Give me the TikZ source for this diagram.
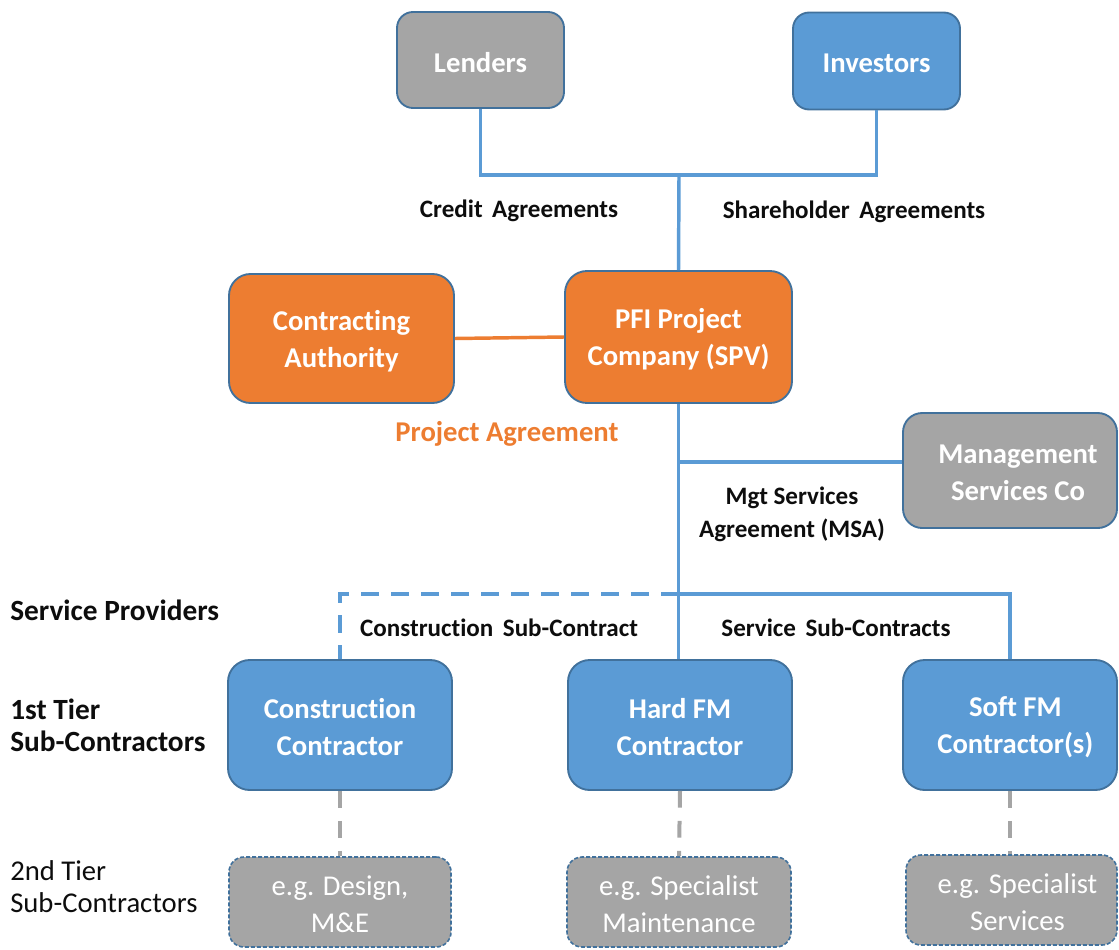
\documentclass[tikz,border=0pt]{standalone}
\usepackage{fontspec}
\setmainfont{Carlito}[Ligatures={NoCommon}]
\definecolor{boxgray}{HTML}{A5A5A5}
\definecolor{boxblue}{HTML}{5B9BD5}
\definecolor{boxorange}{HTML}{ED7D31}
\definecolor{edgeblue}{HTML}{41719C}
\definecolor{linkblue}{HTML}{5B9BD5}
\definecolor{labeltext}{HTML}{0D0D0D}
\newcommand{\wsp}{\hspace{0.38em}}
\begin{document}
\begin{tikzpicture}[x=0.75pt,y=-0.75pt,
  sz/.style 2 args={minimum width=#1*0.75pt, minimum height=#2*0.75pt,
                    rounded corners=#2*0.125pt},
  boxtext/.style={align=center, inner sep=0pt, text=white, yshift=-1.8pt,
                  font=\fontsize{21.5}{27.75}\selectfont\bfseries},
  entity/.style={draw=edgeblue, line width=1.4pt, inner sep=0pt, align=center,
                 text=white, font=\fontsize{21.5}{27.75}\selectfont\bfseries},
  graybox/.style={entity, fill=boxgray},
  bluebox/.style={entity, fill=boxblue},
  orangebox/.style={entity, fill=boxorange},
  tierbox/.style={draw=edgeblue, line width=1.2pt, dash pattern=on 3pt off 1.5pt,
                  fill=boxgray, inner sep=0pt, align=center, text=white,
                  font=\fontsize{21.5}{27.75}\selectfont},
  link/.style={draw=linkblue, line width=2.6pt},
  linkdash/.style={link, dash pattern=on 13.5pt off 9pt},
  tierlink/.style={draw=boxgray, line width=3pt, dash pattern=on 12.5pt off 10pt},
  agree/.style={text=labeltext, align=center, inner sep=0pt,
                font=\fontsize{18.8}{24.75}\selectfont\bfseries},
  rowlabel/.style={text=labeltext, anchor=west, align=left, inner sep=0pt,
                   font=\fontsize{22}{24}\selectfont\bfseries},
  rowlabelplain/.style={rowlabel, font=\fontsize{21.5}{24}\selectfont}
]
\useasboundingbox (0,0) rectangle (1119,949);

% funders
\node[graybox, sz={167}{96}] (lenders) at (480.5,60) {};
\node[boxtext] (lenderstext) at (lenders.center) {Lenders};
\node[bluebox, sz={167}{97}] (investors) at (876.5,61) {};
\node[boxtext] (investorstext) at (investors.center) {Investors};

% project level
\node[orangebox, sz={225}{129}] (authority) at (341.5,338.5) {};
\node[boxtext] (authoritytext) at (authority.center) {Contracting\\Authority};
\node[orangebox, sz={227}{132}] (spv) at (678.5,337) {};
\node[boxtext] (spvtext) at (spv.center) {PFI Project\\Company (SPV)};
\node[graybox, sz={214}{115}] (mgmt) at (1010,470.5) {};
\node[boxtext] (mgmttext) at ([xshift=6pt]mgmt.center) {Management\\Services Co};

% first tier
\node[bluebox, sz={224}{130}] (construction) at (340,725) {};
\node[boxtext] (constructiontext) at (construction.center) {Construction\\Contractor};
\node[bluebox, sz={224}{130}] (hardfm) at (680,725) {};
\node[boxtext] (hardfmtext) at (hardfm.center) {Hard FM\\Contractor};
\node[bluebox, sz={214}{130}] (softfm) at (1010,725) {};
\node[boxtext] (softfmtext) at ([xshift=4pt]softfm.center) {Soft FM\\Contractor(s)};

% second tier
\node[tierbox, sz={222}{90}] (design) at (340,902) {};
\node[boxtext, font=\fontsize{21.5}{27.75}\selectfont] (designtext)
  at (design.center) {e.g. Design,\\M\&E};
\node[tierbox, sz={224}{90}] (maint) at (679,902) {};
\node[boxtext, font=\fontsize{21.5}{27.75}\selectfont] (mainttext)
  at (maint.center) {e.g. Specialist\\Maintenance};
\node[tierbox, sz={211}{90}] (services) at (1011.5,900) {};
\node[boxtext, font=\fontsize{21.5}{27.75}\selectfont] (servicestext)
  at ([xshift=4.5pt]services.center) {e.g. Specialist\\Services};

% junction points on the trunk
\coordinate (fundbus) at (679,175);
\coordinate (msajoin) at (679,462);
\coordinate (subbus) at (679,594);

% connectors
\draw[link] (lenders.south) |- (fundbus) -| (investors.south);
\draw[link] (fundbus) -- (spv.north);
\draw[draw=boxorange, line width=2.6pt] (authority.east) -- (spv.west);
\draw[link] (spv.south) -- (spv.south |- hardfm.north);
\draw[link] (msajoin) -- (msajoin -| mgmt.west);
\draw[link] (subbus) -| (softfm.north);
\draw[linkdash] (subbus) -| (construction.north);
\draw[tierlink] (construction.south) -- (design.north);
\draw[tierlink] (hardfm.south) -- (maint.north);
\draw[tierlink] (softfm.south) -- (softfm.south |- services.north);

% agreement labels
\node[agree] (credit) at (519,211) {Credit\wsp Agreements};
\node[agree] (share) at (854,212) {Shareholder\wsp Agreements};
\node[agree, text=boxorange, font=\fontsize{21.5}{26}\selectfont\bfseries] (pa)
  at (507,434) {Project Agreement};
\node[agree] (msa) at (792,514) {Mgt Services\\Agreement (MSA)};
\node[agree] (csc) at (499,628) {Construction\wsp Sub-Contract};
\node[agree] (ssc) at (836,628) {Service\wsp Sub-Contracts};

% row labels
\node[rowlabel] (sp) at (10,610) {Service Providers};
\node[rowlabel] (tier1) at (10,725) {1st Tier\\Sub-Contractors};
\node[rowlabelplain] (tier2) at (10,887) {2nd Tier\\Sub-Contractors};
\end{tikzpicture}
\end{document}
